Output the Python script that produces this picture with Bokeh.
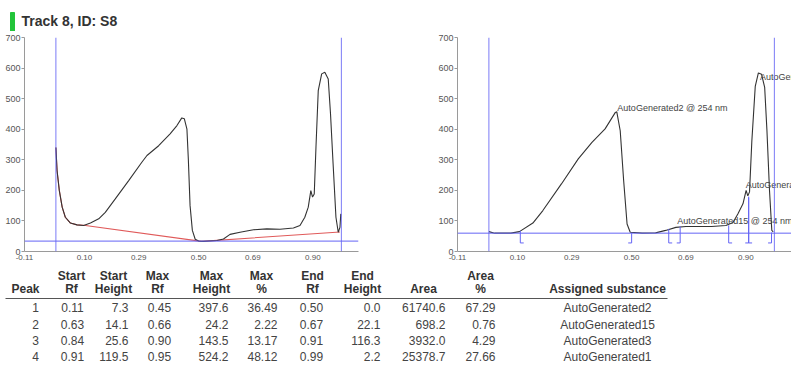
from bokeh.plotting import figure
from bokeh.layouts import column, row
from bokeh.models import Range1d, FixedTicker, ColumnDataSource, Span
from bokeh.core.properties import value
from bokeh.embed import file_html
from bokeh.resources import INLINE

# ---------------- data ----------------
track_title = "Track 8, ID: S8"

# raw densitogram (left chart)
raw_rf = [0.000, 0.004, 0.012, 0.022, 0.033, 0.051, 0.074, 0.097, 0.121, 0.150, 0.173,
          0.208, 0.255, 0.301, 0.319, 0.360, 0.400, 0.424, 0.441, 0.450, 0.459, 0.464,
          0.470, 0.478, 0.488, 0.500, 0.517, 0.564, 0.587, 0.610, 0.645, 0.692, 0.739,
          0.785, 0.832, 0.855, 0.872, 0.884, 0.893, 0.899, 0.905, 0.911, 0.919, 0.931,
          0.942, 0.954, 0.962, 0.971, 0.981, 0.989, 0.995, 0.998]
raw_h = [340, 265, 199, 145, 112, 93, 87, 85, 93, 107, 128,
         172, 232, 292, 314, 346, 385, 412, 437, 434, 400, 300,
         150, 69, 40, 34, 33, 36, 41, 56, 63, 71, 74,
         73, 77, 85, 112, 145, 199, 178, 188, 341, 526, 581,
         586, 564, 450, 287, 112, 63, 79, 123]

# baseline (left chart, red)
base_rf = [0.000, 0.004, 0.012, 0.022, 0.033, 0.051, 0.074, 0.097, 0.510, 0.995]
base_h = [340, 265, 199, 145, 112, 93, 87, 86, 33, 64]

# baseline-corrected densitogram (right chart)
corr_rf = [0.000, 0.020, 0.077, 0.107, 0.154, 0.189, 0.254, 0.313, 0.361, 0.407, 0.443,
           0.448, 0.460, 0.472, 0.484, 0.495, 0.537, 0.584, 0.619, 0.655, 0.690, 0.740,
           0.780, 0.830, 0.855, 0.872, 0.890, 0.901, 0.907, 0.913, 0.921, 0.933, 0.944,
           0.955, 0.966, 0.974, 0.983, 0.991, 0.996]
corr_h = [65, 60, 60, 65, 93, 134, 221, 303, 357, 401, 455,
          457, 395, 232, 90, 63, 60, 61, 69, 79, 82, 82,
          82, 85, 95, 123, 156, 200, 182, 195, 360, 540, 584,
          580, 537, 395, 199, 69, 64]

x_tick_values = [-0.11, 0.10, 0.29, 0.50, 0.69, 0.90]
x_tick_labels = ["-0.11", "0.10", "0.29", "0.50", "0.69", "0.90"]
y_tick_values = [0, 100, 200, 300, 400, 500, 600, 700]

track_start_rf = 0.0
front_rf = 1.0
left_hline = 34
right_hline = 60

# peak table
peak_no = [1, 2, 3, 4]
start_rf = [0.11, 0.63, 0.84, 0.91]
start_height = [7.3, 14.1, 25.6, 119.5]
max_rf = [0.45, 0.66, 0.90, 0.95]
max_height = [397.6, 24.2, 143.5, 524.2]
max_pct = [36.49, 2.22, 13.17, 48.12]
end_rf = [0.50, 0.67, 0.91, 0.99]
end_height = [0.0, 22.1, 116.3, 2.2]
area = [61740.6, 698.2, 3932.0, 25378.7]
area_pct = [67.29, 0.76, 4.29, 27.66]
substance = ["AutoGenerated2", "AutoGenerated15", "AutoGenerated3", "AutoGenerated1"]
wavelength = "254 nm"
label_h = [470, 99, 219, 572]   # label vertical positions

# ---------------- styles ----------------
FONT = "Liberation Sans"
BLUE = "#6464f5"
CURVE = "#333333"
RED = "#e05a5a"
AXIS = "#9a9a9a"
TICKTXT = "#555555"


def make_chart(width, min_left, min_right):
    p = figure(width=width, height=235, x_range=Range1d(-0.11, 1.06), y_range=Range1d(0, 700),
               output_backend="svg", toolbar_location=None,
               min_border_left=min_left, min_border_right=min_right,
               min_border_top=6, min_border_bottom=15)
    p.grid.grid_line_color = None
    p.outline_line_color = None
    p.background_fill_color = "white"
    p.border_fill_color = "white"
    xa = p.xaxis[0]
    xa.ticker = FixedTicker(ticks=x_tick_values)
    xa.major_label_overrides = {v: s for v, s in zip(x_tick_values, x_tick_labels)}
    xa.major_tick_out = 0
    xa.major_tick_in = 0
    xa.minor_tick_out = 0
    xa.minor_tick_in = 0
    xa.major_label_standoff = 3
    xa.axis_line_color = AXIS
    xa.major_label_text_font = FONT
    xa.major_label_text_font_size = "8px"
    xa.major_label_text_color = TICKTXT
    ya = p.yaxis[0]
    ya.ticker = FixedTicker(ticks=y_tick_values)
    ya.major_tick_out = 3
    ya.major_tick_in = 0
    ya.minor_tick_out = 0
    ya.minor_tick_in = 0
    ya.major_label_standoff = 1
    ya.axis_line_color = AXIS
    ya.major_tick_line_color = AXIS
    ya.major_label_text_font = FONT
    ya.major_label_text_font_size = "9px"
    ya.major_label_text_color = TICKTXT
    for loc in (track_start_rf, front_rf):
        p.add_layout(Span(location=loc, dimension="height", line_color=BLUE, line_width=1, line_alpha=0.85))
    return p


# ---------------- title ----------------
title_fig = figure(width=791, height=31, x_range=Range1d(0, 791), y_range=Range1d(31, 0),
                   output_backend="svg", toolbar_location=None, min_border=0,
                   x_axis_location=None, y_axis_location=None)
title_fig.grid.grid_line_color = None
title_fig.outline_line_color = None
title_fig.quad(left=[10], right=[14], top=[12], bottom=[31], color="#22c43a")
title_fig.text(x=[21], y=[20], text=[track_title], text_font=value(FONT), text_font_style="bold",
               text_font_size="14px", text_color="#333333", text_baseline="middle", text_align="left")

# ---------------- left chart ----------------
left = make_chart(432, 24, 74)
left.add_layout(Span(location=left_hline, dimension="width", line_color=BLUE, line_width=1))
left.line(base_rf, base_h, line_color=RED, line_width=1.1)
left.line(raw_rf, raw_h, line_color=CURVE, line_width=1.1)

# ---------------- right chart ----------------
right = make_chart(359, 25, 0)
right.add_layout(Span(location=right_hline, dimension="width", line_color=BLUE, line_width=1))
right.line(corr_rf, corr_h, line_color=CURVE, line_width=1.1)

# peak boundary markers
foot = 0.012
bottom_v = 28
mx0, my0, mx1, my1 = [], [], [], []
for s, sh, e, eh in zip(start_rf, start_height, end_rf, end_height):
    mx0 += [s, s, e, e]
    my0 += [bottom_v, bottom_v, bottom_v, bottom_v]
    mx1 += [s, s + foot, e, e - foot]
    my1 += [right_hline + sh, bottom_v, right_hline + eh, bottom_v]
right.segment(x0=mx0, y0=my0, x1=mx1, y1=my1, line_color=BLUE, line_width=1)

lab_src = ColumnDataSource(dict(x=max_rf, y=label_h,
                                t=[f"{s} @ {wavelength}" for s in substance]))
right.text(x="x", y="y", text="t", source=lab_src, text_font=value(FONT), text_font_size="9px",
           text_color="#444444", text_align="left", text_baseline="middle")

# ---------------- table ----------------
table = figure(width=791, height=101, x_range=Range1d(0, 791), y_range=Range1d(367, 266),
               output_backend="svg", toolbar_location=None, min_border=0,
               x_axis_location=None, y_axis_location=None)
table.grid.grid_line_color = None
table.outline_line_color = None

row_y = [307, 324, 340, 356]
h1_y, h2_y = 275, 288

columns = [
    ("", "Peak", 25, [str(v) for v in peak_no], 35, "center"),
    ("Start", "Rf", 71, [f"{v:.2f}" for v in start_rf], 72, "center"),
    ("Start", "Height", 113, [f"{v:.1f}" for v in start_height], 128, "right"),
    ("Max", "Rf", 157, [f"{v:.2f}" for v in max_rf], 159, "center"),
    ("Max", "Height", 211, [f"{v:.1f}" for v in max_height], 228, "right"),
    ("Max", "%", 261, [f"{v:.2f}" for v in max_pct], 277, "right"),
    ("End", "Rf", 312, [f"{v:.2f}" for v in end_rf], 311, "center"),
    ("End", "Height", 362, [f"{v:.1f}" for v in end_height], 380, "right"),
    ("", "Area", 423, [f"{v:.1f}" for v in area], 445, "right"),
    ("Area", "%", 480, [f"{v:.2f}" for v in area_pct], 495, "right"),
    ("", "Assigned substance", 607, substance, 607, "center"),
]

hx, hy, ht = [], [], []
for h1, h2, x, vals, vx, align in columns:
    if h1:
        hx.append(x); hy.append(h1_y); ht.append(h1)
    hx.append(x); hy.append(h2_y); ht.append(h2)
    table.text(x=[vx] * len(vals), y=row_y, text=vals, text_font=value(FONT),
               text_font_size="12px", text_color="#444444", text_align=align,
               text_baseline="middle")
table.text(x=hx, y=hy, text=ht, text_font=value(FONT), text_font_size="12px",
           text_font_style="bold", text_color="#333333", text_align="center",
           text_baseline="middle")
table.segment(x0=[5], y0=[298], x1=[667], y1=[298], line_color="#555555", line_width=1.2)

layout = column(title_fig, row(left, right), table)
open("out.html", "w").write(file_html(layout, INLINE))
